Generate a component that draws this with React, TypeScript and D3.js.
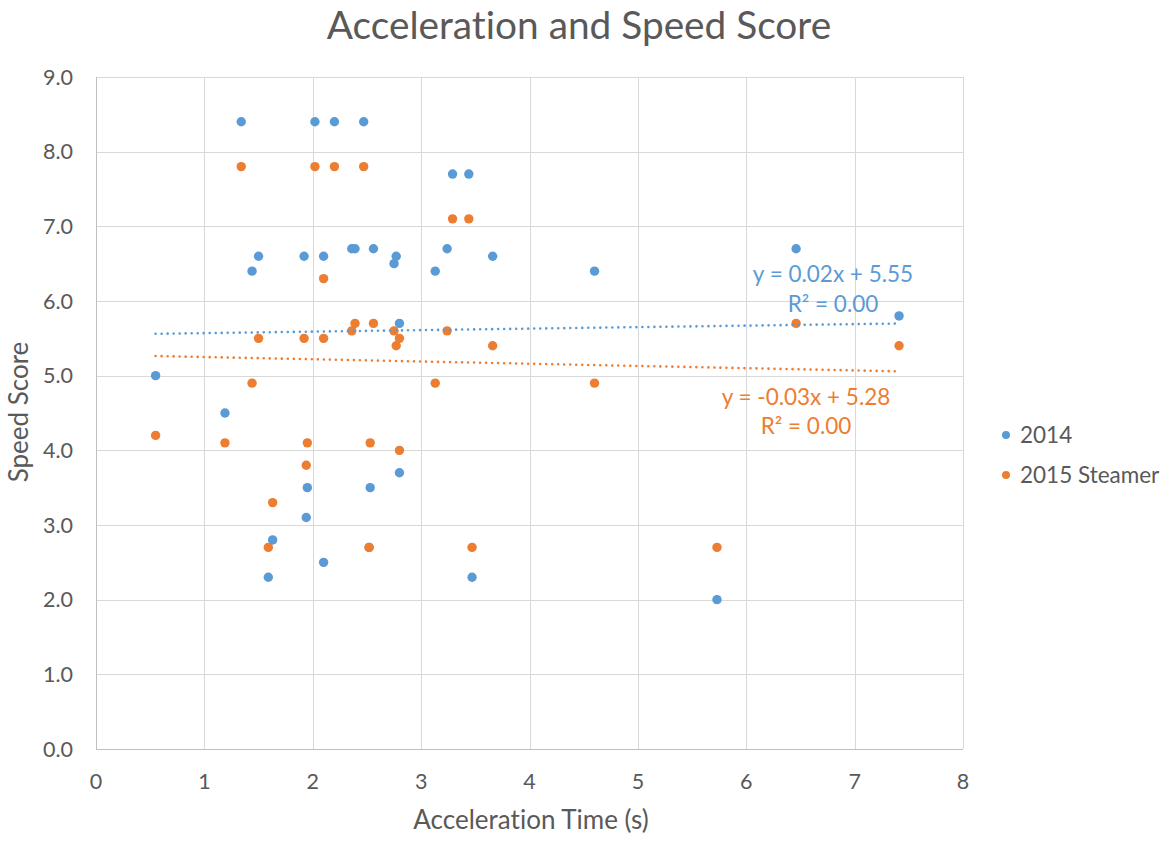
import React from "react";
import * as d3 from "d3";

const WIDTH = 1172;
const HEIGHT = 843;
const MARGIN = { top: 77, right: 209, bottom: 94, left: 96 };

// acceleration time (s), shared by both series
const accelTime = [
  0.55, 1.19, 1.34, 1.44, 1.5, 1.59, 1.63, 1.92, 1.94, 1.95, 2.02, 2.1, 2.1,
  2.2, 2.36, 2.39, 2.47, 2.52, 2.53, 2.56, 2.75, 2.77, 2.8, 2.8, 3.13, 3.24,
  3.29, 3.44, 3.47, 3.66, 4.6, 5.73, 6.46, 7.41,
];
const score2014 = [
  5.0, 4.5, 8.4, 6.4, 6.6, 2.3, 2.8, 6.6, 3.1, 3.5, 8.4, 6.6, 2.5, 8.4, 6.7,
  6.7, 8.4, 2.7, 3.5, 6.7, 6.5, 6.6, 5.7, 3.7, 6.4, 6.7, 7.7, 7.7, 2.3, 6.6,
  6.4, 2.0, 6.7, 5.8,
];
const score2015 = [
  4.2, 4.1, 7.8, 4.9, 5.5, 2.7, 3.3, 5.5, 3.8, 4.1, 7.8, 6.3, 5.5, 7.8, 5.6,
  5.7, 7.8, 2.7, 4.1, 5.7, 5.6, 5.4, 5.5, 4.0, 4.9, 5.6, 7.1, 7.1, 2.7, 5.4,
  4.9, 2.7, 5.7, 5.4,
];

const seriesNames = ["2014", "2015 Steamer"];
const seriesColors = ["#5B9BD5", "#ED7D31"];
// linear trend lines as printed on the chart
const trendSlope = [0.02, -0.03];
const trendIntercept = [5.55, 5.28];
const trendLabels = [
  ["y = 0.02x + 5.55", "R² = 0.00"],
  ["y = -0.03x + 5.28", "R² = 0.00"],
];

const xTicks = [0, 1, 2, 3, 4, 5, 6, 7, 8];
const yTicks = [0, 1, 2, 3, 4, 5, 6, 7, 8, 9];

const FONT = "Lato, 'Open Sans', sans-serif";
const TEXT = "#595959";

export default function App() {
  const x = d3
    .scaleLinear()
    .domain([0, 8])
    .range([MARGIN.left, WIDTH - MARGIN.right]);
  const y = d3
    .scaleLinear()
    .domain([0, 9])
    .range([HEIGHT - MARGIN.bottom, MARGIN.top]);

  const series = [score2014, score2015];
  const xMin = d3.min(accelTime) || 0;
  const xMax = d3.max(accelTime) || 0;

  const line = d3
    .line<[number, number]>()
    .x((d) => x(d[0]))
    .y((d) => y(d[1]));

  return (
    <svg
      width={WIDTH}
      height={HEIGHT}
      style={{
        position: "absolute",
        left: 0,
        top: 0,
        background: "#fff",
        fontVariantLigatures: "none",
        fontFeatureSettings: '"liga" 0, "clig" 0, "dlig" 0',
      }}
      fontFamily={FONT}
    >
      <rect width={WIDTH} height={HEIGHT} fill="#fff" />
      <text x={579} y={39} textAnchor="middle" fontSize={38.8} fill={TEXT}>
        Acceleration and Speed Score
      </text>

      {/* grid */}
      <g stroke="#d9d9d9" strokeWidth={1}>
        {yTicks.map((t) => (
          <line
            key={"gy" + t}
            x1={x(0)}
            x2={x(8)}
            y1={Math.round(y(t)) + 0.5}
            y2={Math.round(y(t)) + 0.5}
          />
        ))}
        {xTicks.map((t) => (
          <line
            key={"gx" + t}
            x1={Math.round(x(t)) + 0.5}
            x2={Math.round(x(t)) + 0.5}
            y1={y(0)}
            y2={y(9)}
          />
        ))}
      </g>
      <g stroke="#bfbfbf" strokeWidth={1}>
        <line x1={x(0)} x2={x(8)} y1={Math.round(y(0)) + 0.5} y2={Math.round(y(0)) + 0.5} />
        <line x1={Math.round(x(0)) + 0.5} x2={Math.round(x(0)) + 0.5} y1={y(0)} y2={y(9)} />
      </g>

      {/* tick labels */}
      <g fontSize={21.5} fill={TEXT}>
        {yTicks.map((t) => (
          <text key={"ty" + t} x={73} y={y(t)} dy="0.36em" textAnchor="end">
            {t.toFixed(1)}
          </text>
        ))}
        {xTicks.map((t) => (
          <text key={"tx" + t} x={x(t)} y={789} textAnchor="middle">
            {t}
          </text>
        ))}
      </g>

      {/* axis titles */}
      <text x={531} y={829} textAnchor="middle" fontSize={26} fill={TEXT}>
        Acceleration Time (s)
      </text>
      <text
        transform="translate(28,412) rotate(-90)"
        textAnchor="middle"
        fontSize={26}
        fill={TEXT}
      >
        Speed Score
      </text>

      {/* points */}
      {series.map((vals, si) => (
        <g key={"s" + si} fill={seriesColors[si]}>
          {vals.map((v, i) => (
            <circle key={i} cx={x(accelTime[i])} cy={y(v)} r={4.7} />
          ))}
        </g>
      ))}

      {/* trend lines */}
      {series.map((_, si) => (
        <path
          key={"t" + si}
          d={
            line([
              [xMin, trendSlope[si] * xMin + trendIntercept[si]],
              [xMax, trendSlope[si] * xMax + trendIntercept[si]],
            ]) || ""
          }
          fill="none"
          stroke={seriesColors[si]}
          strokeWidth={2.6}
          strokeLinecap="round"
          strokeDasharray="0.01 6"
        />
      ))}

      {/* trend labels */}
      <g fontSize={22.5} textAnchor="middle">
        <text x={833} y={282} fill={seriesColors[0]}>{trendLabels[0][0]}</text>
        <text x={833} y={312} fill={seriesColors[0]}>{trendLabels[0][1]}</text>
        <text x={806} y={405} fill={seriesColors[1]}>{trendLabels[1][0]}</text>
        <text x={806} y={434} fill={seriesColors[1]}>{trendLabels[1][1]}</text>
      </g>

      {/* legend */}
      <g fontSize={22.5} fill={TEXT}>
        {seriesNames.map((n, i) => (
          <g key={n} transform={`translate(1006,${435 + i * 40})`}>
            <circle r={4} fill={seriesColors[i]} />
            <text x={14} dy="0.36em">
              {n}
            </text>
          </g>
        ))}
      </g>
    </svg>
  );
}
